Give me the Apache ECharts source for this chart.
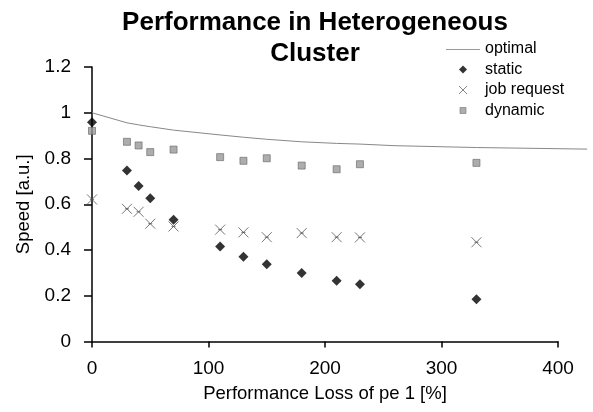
<!DOCTYPE html>
<html>
<head>
<meta charset="utf-8">
<script src="https://cdn.jsdelivr.net/npm/echarts@6/dist/echarts.min.js"></script>
<style>
html,body{margin:0;padding:0;background:#fff;}
#chart{width:593px;height:412px;}
</style>
</head>
<body>
<div id="chart"></div>
<script>
// Data
const optimalX = [0, 30, 40, 50, 70, 110, 130, 150, 180, 210, 230, 260, 330, 425];
const optimalY = [1.0, 0.956, 0.947, 0.939, 0.924, 0.903, 0.893, 0.884, 0.873, 0.866, 0.863, 0.856, 0.848, 0.841];

const staticX = [0, 30, 40, 50, 70, 110, 130, 150, 180, 210, 230, 330];
const staticY = [0.958, 0.747, 0.68, 0.626, 0.532, 0.415, 0.371, 0.338, 0.30, 0.266, 0.25, 0.185];

const jobX = [0, 30, 40, 50, 70, 110, 130, 150, 180, 210, 230, 330];
const jobY = [0.621, 0.58, 0.567, 0.515, 0.503, 0.489, 0.477, 0.456, 0.474, 0.456, 0.455, 0.434];

const dynX = [0, 30, 40, 50, 70, 110, 130, 150, 180, 210, 230, 330];
const dynY = [0.921, 0.873, 0.857, 0.828, 0.839, 0.806, 0.79, 0.801, 0.769, 0.753, 0.775, 0.781];

const xTicks = [0, 100, 200, 300, 400];
const yTicks = [0, 0.2, 0.4, 0.6, 0.8, 1, 1.2];

const zip = (xs, ys) => xs.map((x, i) => [x, ys[i]]);
const FONT = '"Liberation Sans", Arial, sans-serif';
const diamondPath = 'path://M0,5L5,0L10,5L5,10Z';
const crossPath = 'path://M0,0L10,10M10,0L0,10M3,5L7,5';

// main plot: x 0..400 over 466 px; the optimal curve continues past 400 to the picture edge,
// so it lives on an overlay grid with the same scale extended to 425.
const X_MAX = 400, X_EXT = 425;
const GRID_LEFT = 92, GRID_RIGHT = 35, W = 593;
const pxPerUnit = (W - GRID_LEFT - GRID_RIGHT) / X_MAX;
const extRight = W - GRID_LEFT - X_EXT * pxPerUnit;

const chart = echarts.init(document.getElementById('chart'), null, {renderer: 'canvas'});
chart.setOption({
  animation: false,
  backgroundColor: '#fff',
  title: {
    text: 'Performance in Heterogeneous\nCluster',
    left: 310, top: 2, textAlign: 'center',
    textStyle: {fontFamily: FONT, fontWeight: 'bold', fontSize: 26, lineHeight: 31, color: '#000'}
  },
  legend: {
    orient: 'vertical',
    left: 446, top: 41,
    padding: 0,
    itemGap: 4.5,
    itemWidth: 34, itemHeight: 14,
    textStyle: {fontFamily: FONT, fontSize: 16, color: '#000'},
    data: [
      {name: 'optimal', icon: 'path://M0,-7M0,0L34,0L34,1L0,1ZM0,7', itemStyle: {color: '#999', borderWidth: 0}},
      {name: 'static', icon: 'path://M-3,-3M0,4L4,0L8,4L4,8ZM11,11', itemStyle: {color: '#000'}},
      {name: 'job request', icon: 'path://M-3,-3M0,0L8,8M8,0L0,8M11,11', itemStyle: {color: 'transparent', borderColor: '#666', borderWidth: 1}},
      {name: 'dynamic', icon: 'path://M-4,-4M0,0L6,0L6,6L0,6ZM10,10', itemStyle: {color: '#999', borderColor: '#777', borderWidth: 0.8}}
    ]
  },
  grid: [
    {left: GRID_LEFT, right: GRID_RIGHT, top: 67, bottom: 70.5},
    {left: GRID_LEFT, right: extRight, top: 67, bottom: 70.5}
  ],
  xAxis: [{
    gridIndex: 0,
    type: 'value', min: 0, max: X_MAX, interval: 100,
    name: 'Performance Loss of pe 1 [%]',
    nameLocation: 'middle', nameGap: 43,
    nameTextStyle: {fontFamily: FONT, fontSize: 18.5, color: '#000'},
    axisLine: {show: true, lineStyle: {color: '#000', width: 1.5}},
    axisTick: {show: true, inside: false, length: 6, lineStyle: {color: '#000', width: 1.5}},
    axisLabel: {fontFamily: FONT, fontSize: 19, color: '#000', margin: 18},
    splitLine: {show: false}
  }, {
    gridIndex: 1, type: 'value', min: 0, max: X_EXT, show: false
  }],
  yAxis: [{
    gridIndex: 0,
    type: 'value', min: 0, max: 1.2, interval: 0.2,
    name: 'Speed [a.u.]',
    nameLocation: 'middle', nameGap: 58, nameRotate: 90,
    nameTextStyle: {fontFamily: FONT, fontSize: 18.5, color: '#000'},
    axisLine: {show: true, lineStyle: {color: '#000', width: 1.5}},
    axisTick: {show: true, inside: false, length: 8, lineStyle: {color: '#000', width: 1.5}},
    axisLabel: {fontFamily: FONT, fontSize: 19, color: '#000', margin: 21,
      formatter: v => String(Math.round(v * 10) / 10)},
    splitLine: {show: false}
  }, {
    gridIndex: 1, type: 'value', min: 0, max: 1.2, show: false
  }],
  series: [
    {
      name: 'optimal', type: 'line', data: zip(optimalX, optimalY),
      xAxisIndex: 1, yAxisIndex: 1,
      symbol: 'none', showSymbol: false, smooth: false,
      lineStyle: {color: '#888', width: 1}, itemStyle: {color: '#888'}, z: 1
    },
    {
      name: 'static', type: 'scatter', data: zip(staticX, staticY),
      symbol: diamondPath, symbolSize: 10,
      itemStyle: {color: '#000'}, z: 3
    },
    {
      name: 'job request', type: 'scatter', data: zip(jobX, jobY),
      symbol: crossPath, symbolSize: 10,
      itemStyle: {color: 'transparent', borderColor: '#555', borderWidth: 1}, z: 2
    },
    {
      name: 'dynamic', type: 'scatter', data: zip(dynX, dynY),
      symbol: 'rect', symbolSize: 7,
      itemStyle: {color: '#999', borderColor: '#666', borderWidth: 0.8}, z: 2
    }
  ]
});
</script>
</body>
</html>
